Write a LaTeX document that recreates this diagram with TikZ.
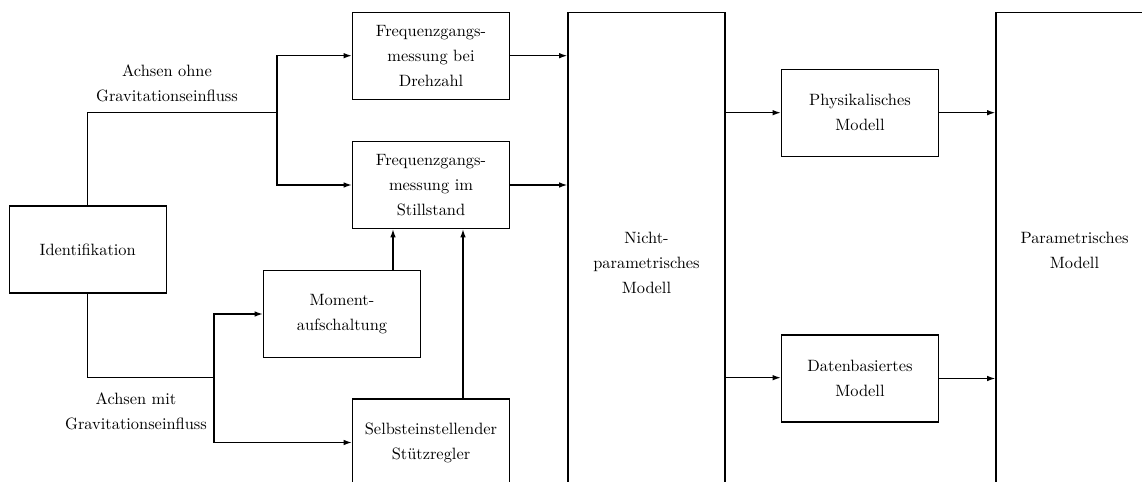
\documentclass[tikz,border=0pt]{standalone}
\usetikzlibrary{arrows.meta}
\begin{document}
\begin{tikzpicture}[x=0.61pt,y=-0.61pt,
  blk/.style={draw,line width=0.8pt,minimum width=95.8pt,minimum height=53.1pt,inner sep=0pt,
    align=center,font=\fontsize{10}{15.25}\selectfont},
  tallblk/.style={blk,minimum height=#1},
  lbl/.style={align=center,font=\fontsize{10}{15.25}\selectfont,inner sep=0pt},
  conn/.style={line width=0.8pt},
  arr/.style={conn,-{Latex[length=5pt,width=3.4pt]}}]
\useasboundingbox (0,0) rectangle (1142,482);
\clip (0,0) rectangle (1142,482);

% blocks
\node[blk] (ident) at (87.7,249.5) {Identifikation};
\node[blk] (fgd) at (431,55.7) {Frequenzgangs-\\messung bei\\Drehzahl};
\node[blk] (fgs) at (431,185) {Frequenzgangs-\\messung im\\Stillstand};
\node[blk] (mom) at (342,314) {Moment-\\aufschaltung};
\node[blk] (sel) at (431,442.5) {Selbsteinstellender\\St\"utzregler};
\node[tallblk=305.4pt] (npm) at (646.5,262.7) {Nicht-\\parametrisches\\Modell};
\node[blk] (phys) at (860,112.7) {Physikalisches\\Modell};
\node[blk] (dat) at (860,378.5) {Datenbasiertes\\Modell};
\node[tallblk=290pt] (param) at (1074.5,250) {Parametrisches\\Modell};

% branch labels
\node[lbl] (lup) at (167,83.5) {Achsen ohne\\Gravitationseinfluss};
\node[lbl] (ldown) at (136,411) {Achsen mit\\Gravitationseinfluss};

% branch points and vertical feed positions
\coordinate (j1) at (277,112.7);
\coordinate (j2) at (214,377.7);
\coordinate (m1) at (393,0);
\coordinate (s1) at (463,0);
\coordinate (n1) at (0,112.7);
\coordinate (n2) at (0,377.7);

% upper branch
\draw[conn] (ident.north) |- (j1);
\draw[arr] (j1) |- (fgd.west);
\draw[arr] (j1) |- (fgs.west);

% lower branch
\draw[conn] (ident.south) |- (j2);
\draw[arr] (j2) |- (mom.west);
\draw[arr] (j2) |- (sel.west);

% feeds into the standstill measurement
\draw[arr] (mom.north -| m1) -- (fgs.south -| m1);
\draw[arr] (sel.north -| s1) -- (fgs.south -| s1);

% into the non-parametric model
\draw[arr] (fgd.east) -- (fgd.east -| npm.west);
\draw[arr] (fgs.east) -- (fgs.east -| npm.west);

% model paths
\draw[arr] (npm.east |- n1) -- (phys.west |- n1);
\draw[arr] (npm.east |- n2) -- (dat.west |- n2);
\draw[arr] (phys.east) -- (phys.east -| param.west);
\draw[arr] (dat.east) -- (dat.east -| param.west);
\end{tikzpicture}
\end{document}
